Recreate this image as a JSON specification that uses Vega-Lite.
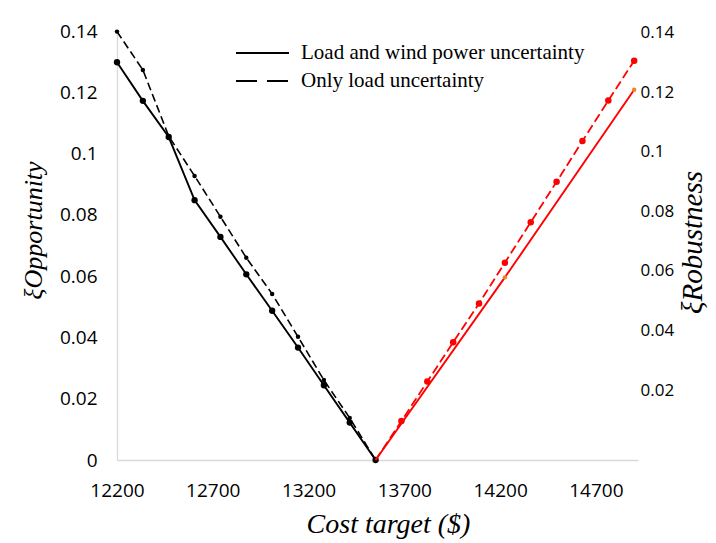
{
  "$schema": "https://vega.github.io/schema/vega-lite/v6.json",
  "width": 521,
  "height": 429,
  "autosize": "none",
  "padding": {"left": 117, "top": 31, "right": 78, "bottom": 83},
  "background": "white",
  "data": {
    "values": [
      {"cost": 12200, "value": 0.1298, "series": "Load and wind power uncertainty", "side": "L"},
      {"cost": 12335, "value": 0.1172, "series": "Load and wind power uncertainty", "side": "L"},
      {"cost": 12470, "value": 0.1054, "series": "Load and wind power uncertainty", "side": "L"},
      {"cost": 12605, "value": 0.0848, "series": "Load and wind power uncertainty", "side": "L"},
      {"cost": 12740, "value": 0.0728, "series": "Load and wind power uncertainty", "side": "L"},
      {"cost": 12875, "value": 0.0606, "series": "Load and wind power uncertainty", "side": "L"},
      {"cost": 13010, "value": 0.0487, "series": "Load and wind power uncertainty", "side": "L"},
      {"cost": 13145, "value": 0.0367, "series": "Load and wind power uncertainty", "side": "L"},
      {"cost": 13280, "value": 0.0244, "series": "Load and wind power uncertainty", "side": "L"},
      {"cost": 13415, "value": 0.0122, "series": "Load and wind power uncertainty", "side": "L"},
      {"cost": 13550, "value": 0, "series": "Load and wind power uncertainty", "side": "L"},
      {"cost": 12200, "value": 0.1398, "series": "Only load uncertainty", "side": "L"},
      {"cost": 12335, "value": 0.1273, "series": "Only load uncertainty", "side": "L"},
      {"cost": 12470, "value": 0.1057, "series": "Only load uncertainty", "side": "L"},
      {"cost": 12605, "value": 0.0927, "series": "Only load uncertainty", "side": "L"},
      {"cost": 12740, "value": 0.0794, "series": "Only load uncertainty", "side": "L"},
      {"cost": 12875, "value": 0.066, "series": "Only load uncertainty", "side": "L"},
      {"cost": 13010, "value": 0.0542, "series": "Only load uncertainty", "side": "L"},
      {"cost": 13145, "value": 0.0402, "series": "Only load uncertainty", "side": "L"},
      {"cost": 13280, "value": 0.0261, "series": "Only load uncertainty", "side": "L"},
      {"cost": 13415, "value": 0.0137, "series": "Only load uncertainty", "side": "L"},
      {"cost": 13550, "value": 0, "series": "Only load uncertainty", "side": "L"},
      {"cost": 13550, "value": 0, "series": "Only load uncertainty", "side": "R"},
      {"cost": 13685, "value": 0.0127, "series": "Only load uncertainty", "side": "R"},
      {"cost": 13820, "value": 0.0256, "series": "Only load uncertainty", "side": "R"},
      {"cost": 13955, "value": 0.0384, "series": "Only load uncertainty", "side": "R"},
      {"cost": 14090, "value": 0.0511, "series": "Only load uncertainty", "side": "R"},
      {"cost": 14225, "value": 0.0644, "series": "Only load uncertainty", "side": "R"},
      {"cost": 14360, "value": 0.0776, "series": "Only load uncertainty", "side": "R"},
      {"cost": 14495, "value": 0.0908, "series": "Only load uncertainty", "side": "R"},
      {"cost": 14630, "value": 0.1041, "series": "Only load uncertainty", "side": "R"},
      {"cost": 14765, "value": 0.1173, "series": "Only load uncertainty", "side": "R"},
      {"cost": 14900, "value": 0.1303, "series": "Only load uncertainty", "side": "R"},
      {"cost": 13550, "value": 0, "series": "Load and wind power uncertainty", "side": "R"},
      {"cost": 14225, "value": 0.0596, "series": "Load and wind power uncertainty", "side": "R"},
      {"cost": 14900, "value": 0.1208, "series": "Load and wind power uncertainty", "side": "R"}
    ]
  },
  "encoding": {
    "x": {
      "field": "cost",
      "type": "quantitative",
      "scale": {"domain": [12200, 14920], "nice": false, "zero": false},
      "axis": {
        "values": [12200, 12700, 13200, 13700, 14200, 14700],
        "format": "d",
        "labelFlush": false,
        "labelPadding": 21,
        "title": "Cost target ($)",
        "titleX": 271,
        "titleY": 64,
        "titleAlign": "center",
        "titleBaseline": "middle",
        "titleFontSize": 28
      }
    }
  },
  "layer": [
    {
      "encoding": {
        "y": {
          "field": "value",
          "type": "quantitative",
          "scale": {"domain": [0, 0.14], "nice": false},
          "axis": {
            "orient": "left",
            "values": [0, 0.02, 0.04, 0.06, 0.08, 0.1, 0.12, 0.14],
            "format": "~g",
            "labelFlush": false,
            "labelPadding": 20,
            "title": "ξOpportunity",
            "titleAngle": 270,
            "titleX": -84,
            "titleY": 199,
            "titleAlign": "center",
            "titleBaseline": "middle",
            "titleFontSize": 26
          }
        }
      },
      "layer": [
        {
          "transform": [{"filter": "datum.side == 'L' && datum.series == 'Load and wind power uncertainty'"}],
          "mark": {"type": "line", "color": "black", "strokeWidth": 1.9}
        },
        {
          "transform": [{"filter": "datum.side == 'L' && datum.series == 'Only load uncertainty'"}],
          "mark": {"type": "line", "color": "black", "strokeWidth": 1.6, "strokeDash": [8, 4]}
        },
        {
          "transform": [{"filter": "false"}],
          "mark": {"type": "line", "color": "black"},
          "encoding": {
            "strokeDash": {
              "field": "series",
              "type": "nominal",
              "scale": {"domain": ["Load and wind power uncertainty", "Only load uncertainty"], "range": [[1, 0], [21, 10]]},
              "legend": {
                "orient": "none",
                "legendX": 118,
                "legendY": 9,
                "title": null,
                "labelLimit": 500,
                "clipHeight": 26,
                "rowPadding": 2
              }
            }
          }
        },
        {
          "transform": [{"filter": "datum.side == 'L' && datum.series == 'Load and wind power uncertainty'"}],
          "mark": {"type": "point", "filled": true, "color": "black", "size": 40, "opacity": 1}
        },
        {
          "transform": [{"filter": "datum.side == 'L' && datum.series == 'Only load uncertainty'"}],
          "mark": {"type": "point", "filled": true, "color": "black", "size": 20, "opacity": 1}
        },
        {
          "transform": [{"filter": "datum.side == 'R' && datum.series == 'Load and wind power uncertainty'"}],
          "mark": {"type": "line", "color": "#ff0000", "strokeWidth": 1.9}
        },
        {
          "transform": [{"filter": "datum.side == 'R' && datum.series == 'Only load uncertainty'"}],
          "mark": {"type": "line", "color": "#ff0000", "strokeWidth": 1.8, "strokeDash": [9, 4]}
        },
        {
          "transform": [{"filter": "datum.side == 'R' && datum.series == 'Only load uncertainty' && datum.cost > 13550"}],
          "mark": {"type": "point", "filled": true, "color": "#ff0000", "size": 42, "opacity": 1}
        },
        {
          "transform": [{"filter": "datum.side == 'R' && datum.series == 'Load and wind power uncertainty' && datum.cost > 13550"}],
          "mark": {"type": "point", "filled": true, "color": "#f5821f", "size": 20, "opacity": 1}
        }
      ]
    },
    {
      "transform": [{"filter": "datum.side == 'R'"}],
      "mark": {"type": "point", "opacity": 0},
      "encoding": {
        "y": {
          "field": "value",
          "type": "quantitative",
          "scale": {"domain": [-0.0034, 0.1405], "nice": false, "zero": false},
          "axis": {
            "orient": "right",
            "domain": false,
            "values": [0.02, 0.04, 0.06, 0.08, 0.1, 0.12, 0.14],
            "format": "~g",
            "labelFlush": false,
            "labelPadding": 2,
            "labelFontSize": 17,
            "title": "ξRobustness",
            "titleAngle": 270,
            "titleX": 54,
            "titleY": 211,
            "titleAlign": "center",
            "titleBaseline": "middle",
            "titleFontSize": 29
          }
        }
      }
    }
  ],
  "resolve": {"scale": {"y": "independent"}},
  "config": {
    "view": {"stroke": null},
    "axis": {
      "grid": false,
      "ticks": false,
      "tickSize": 0,
      "domainColor": "#d9d9d9",
      "domainWidth": 1.3,
      "labelFont": "Open Sans",
      "labelFontSize": 19,
      "labelColor": "#000000",
      "titleFont": "Liberation Serif",
      "titleFontStyle": "italic",
      "titleFontWeight": "normal",
      "titleColor": "#000000"
    },
    "legend": {
      "labelFont": "Liberation Serif",
      "labelFontSize": 21,
      "labelColor": "#000000",
      "symbolType": "stroke",
      "symbolSize": 2809,
      "symbolStrokeWidth": 2,
      "symbolStrokeColor": "black",
      "labelOffset": 11,
      "padding": 0,
      "offset": 0
    }
  }
}
